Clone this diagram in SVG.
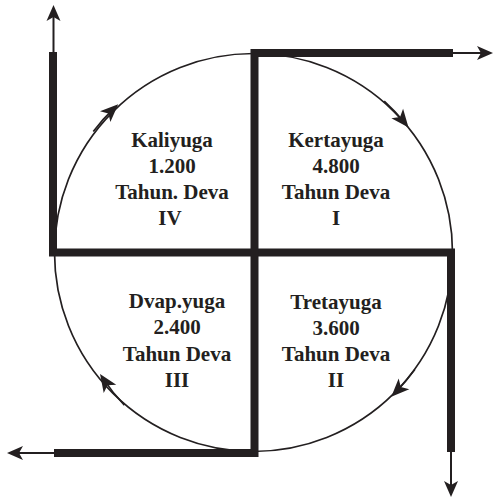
<svg xmlns="http://www.w3.org/2000/svg" width="494" height="499" viewBox="0 0 494 499">
  <style>
    .bar { fill: none; stroke: #231f20; stroke-width: 8; stroke-linejoin: miter; stroke-linecap: butt; }
    .thin { fill: none; stroke: #231f20; stroke-width: 2; }
    .ring { fill: none; stroke: #231f20; stroke-width: 1.7; }
    .lbl { font-family: "Liberation Serif", "Times New Roman", serif; font-weight: bold; font-size: 21px; fill: #231f20; text-anchor: middle; }
  </style>
  <defs>
    <marker id="ah" viewBox="0 0 18 14" markerWidth="18" markerHeight="14" refX="13" refY="7" orient="auto" markerUnits="userSpaceOnUse" overflow="visible">
      <path d="M17,7 L1,0 L5,7 L1,14 Z" fill="#231f20"/>
    </marker>
    <marker id="ahc" viewBox="0 0 20 16" markerWidth="20" markerHeight="16" refX="14" refY="8" orient="auto" markerUnits="userSpaceOnUse" overflow="visible">
      <path d="M19,8 L1,0.5 L5.5,8 L1,15.5 Z" fill="#231f20"/>
    </marker>
  </defs>
  <rect width="494" height="499" fill="#ffffff"/>

  <g id="connectors">
    <circle class="ring" cx="253.5" cy="252.5" r="199"/>
    <path class="bar" d="M53,52 V252.5 H451 V452"/>
    <path class="bar" d="M453,53 H254.5 V453 H54"/>
    <path class="thin" d="M53.5,52 V9" marker-end="url(#ah)"/>
    <path class="thin" d="M453,53 H489" marker-end="url(#ah)"/>
    <path class="thin" d="M451,452 V493" marker-end="url(#ah)"/>
    <path class="thin" d="M54,453 H11" marker-end="url(#ah)"/>
    <path class="ring" d="M93.3,131.6 A199,199 0 0 1 114.6,107.7" marker-end="url(#ahc)"/>
    <path class="ring" d="M384.2,101.1 A199,199 0 0 1 405.4,123.6" marker-end="url(#ahc)"/>
    <path class="ring" d="M414.8,369.6 A199,199 0 0 1 394.8,393.1" marker-end="url(#ahc)"/>
    <path class="ring" d="M124.4,405.2 A199,199 0 0 1 102.8,378.1" marker-end="url(#ahc)"/>
  </g>

  <g id="kaliyuga">
    <text class="lbl" x="172" y="147">Kaliyuga</text>
    <text class="lbl" x="172" y="173">1.200</text>
    <text class="lbl" x="172" y="199">Tahun. Deva</text>
    <text class="lbl" x="170" y="225">IV</text>
  </g>
  <g id="kertayuga">
    <text class="lbl" x="336" y="147">Kertayuga</text>
    <text class="lbl" x="336" y="173">4.800</text>
    <text class="lbl" x="336" y="199">Tahun Deva</text>
    <text class="lbl" x="336" y="225">I</text>
  </g>
  <g id="dvapayuga">
    <text class="lbl" x="177" y="308">Dvap.yuga</text>
    <text class="lbl" x="177" y="334">2.400</text>
    <text class="lbl" x="177" y="361">Tahun Deva</text>
    <text class="lbl" x="177" y="387">III</text>
  </g>
  <g id="tretayuga">
    <text class="lbl" x="336" y="309">Tretayuga</text>
    <text class="lbl" x="336" y="335">3.600</text>
    <text class="lbl" x="336" y="361">Tahun Deva</text>
    <text class="lbl" x="336" y="387">II</text>
  </g>
</svg>
